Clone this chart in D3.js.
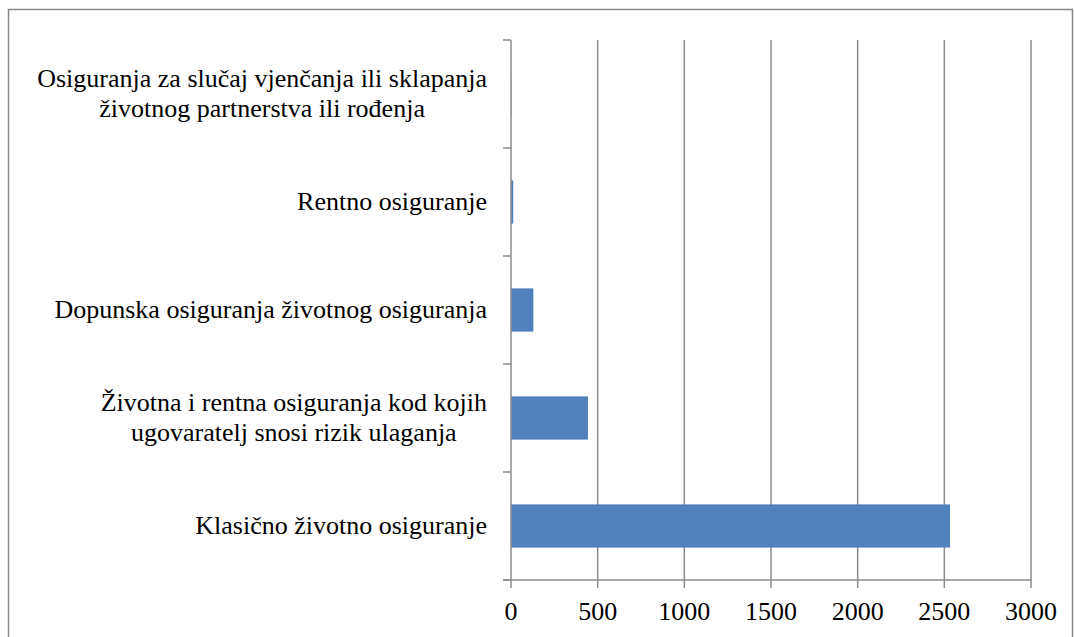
<!DOCTYPE html>
<html>
<head>
<meta charset="utf-8">
<script src="https://cdn.jsdelivr.net/npm/d3@7"></script>
<style>
  body { margin: 0; background: #fff; }
  svg { display: block; }
  .lab-wrap { width: 100%; height: 100%; display: flex; justify-content: flex-end; align-items: center; }
  .lab { text-align: center; font-family: "Liberation Serif", serif; font-size: 26px; line-height: 30px; color: #000; white-space: nowrap; }
</style>
</head>
<body>
<svg id="chart"></svg>
<script>
// categories top to bottom, each entry is the lines of the label
const categories = [
  ["Osiguranja za slučaj vjenčanja ili sklapanja", "životnog partnerstva ili rođenja"],
  ["Rentno osiguranje"],
  ["Dopunska osiguranja životnog osiguranja"],
  ["Životna i rentna osiguranja kod kojih", "ugovaratelj snosi rizik ulaganja"],
  ["Klasično životno osiguranje"]
];
const values = [2, 13, 129, 444, 2533];
const xTicks = [0, 500, 1000, 1500, 2000, 2500, 3000];

const width = 1074;
const height = 637;
const margin = { top: 40, right: 43, bottom: 57, left: 511 };
const fontSize = 26;

const svg = d3.select("#chart")
  .attr("width", width)
  .attr("height", height);

// outer frame
svg.append("rect")
  .attr("x", 8.5)
  .attr("y", 9.5)
  .attr("width", 1064)
  .attr("height", 640)
  .attr("fill", "none")
  .attr("stroke", "#868686")
  .attr("stroke-width", 1.5);

const x = d3.scaleLinear()
  .domain([0, 3000])
  .range([margin.left, width - margin.right]);

const y = d3.scaleBand()
  .domain(d3.range(categories.length))
  .range([margin.top, height - margin.bottom])
  .paddingInner(0.6)
  .paddingOuter(0.3);

const bandStep = y.step();
const gridColor = "#8c8c8c";
const axisY = height - margin.bottom;

// vertical gridlines
svg.append("g")
  .selectAll("line")
  .data(xTicks.slice(1))
  .join("line")
  .attr("x1", d => x(d))
  .attr("x2", d => x(d))
  .attr("y1", margin.top)
  .attr("y2", axisY)
  .attr("stroke", gridColor)
  .attr("stroke-width", 1.5);

// bars
svg.append("g")
  .selectAll("rect")
  .data(values)
  .join("rect")
  .attr("x", x(0))
  .attr("y", (d, i) => y(i))
  .attr("width", d => x(d) - x(0))
  .attr("height", y.bandwidth())
  .attr("fill", "#4f81bd");

// bottom axis
svg.append("line")
  .attr("x1", x(0) - 8)
  .attr("x2", x(3000))
  .attr("y1", axisY)
  .attr("y2", axisY)
  .attr("stroke", gridColor)
  .attr("stroke-width", 1.5);
svg.append("g")
  .selectAll("line")
  .data(xTicks)
  .join("line")
  .attr("x1", d => x(d))
  .attr("x2", d => x(d))
  .attr("y1", axisY)
  .attr("y2", axisY + 8)
  .attr("stroke", gridColor)
  .attr("stroke-width", 1.5);
svg.append("g")
  .selectAll("text")
  .data(xTicks)
  .join("text")
  .attr("x", d => x(d))
  .attr("y", axisY + 40)
  .attr("text-anchor", "middle")
  .attr("font-family", "Liberation Serif")
  .attr("font-size", fontSize)
  .attr("fill", "#000")
  .text(d => d);

// left axis line with ticks at band boundaries
const boundaries = d3.range(categories.length + 1).map(i => margin.top + i * bandStep);
svg.append("line")
  .attr("x1", x(0))
  .attr("x2", x(0))
  .attr("y1", margin.top)
  .attr("y2", axisY)
  .attr("stroke", gridColor)
  .attr("stroke-width", 1.5);
svg.append("g")
  .selectAll("line")
  .data(boundaries)
  .join("line")
  .attr("x1", x(0) - 8)
  .attr("x2", x(0))
  .attr("y1", d => d)
  .attr("y2", d => d)
  .attr("stroke", gridColor)
  .attr("stroke-width", 1.5);

// category labels: block right aligned, lines centred within block (no text measuring)
const labelRight = x(0) - 24;
const labelBox = 90;
svg.append("g")
  .selectAll("foreignObject")
  .data(categories)
  .join("foreignObject")
  .attr("x", 0)
  .attr("y", (d, i) => y(i) + y.bandwidth() / 2 - labelBox / 2)
  .attr("width", labelRight)
  .attr("height", labelBox)
  .append("xhtml:div")
  .attr("class", "lab-wrap")
  .append("xhtml:div")
  .attr("class", "lab")
  .html(lines => lines.join("<br>"));
</script>
</body>
</html>
